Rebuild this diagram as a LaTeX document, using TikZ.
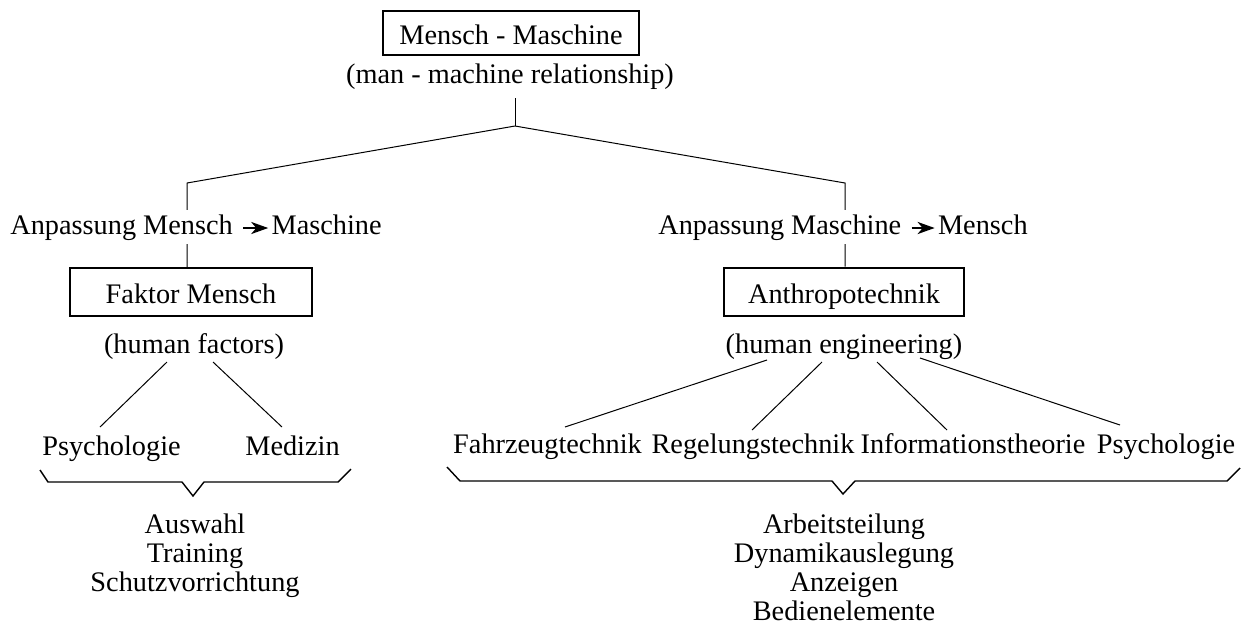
\documentclass[tikz,border=0pt]{standalone}
\usepackage{fontspec}
\setmainfont{Liberation Serif}
\usetikzlibrary{arrows.meta,calc}
\begin{document}
\begin{tikzpicture}[x=0.5pt,y=-0.5pt,
  every node/.style={font=\fontsize{14.15pt}{17pt}\selectfont, inner sep=0pt},
  txt/.style={anchor=base},
  box/.style={draw, line width=1pt, text height=11.5pt, text depth=0pt},
  link/.style={line width=0.5pt},
  brace/.style={line width=0.7pt, line join=miter},
  glyph/.style={line width=1.3pt, -{Stealth[length=8.5pt,width=6pt,inset=2.5pt]}},
  cover/.style={anchor=base west, fill=white, inner xsep=0pt, inner ysep=2pt}]
\fill[white] (0,0) rectangle (1248,628);
\useasboundingbox (0,0) rectangle (1248,628);

% boxes
\node[box, minimum width=128pt, minimum height=22pt] (mm) at (511,32.5) {Mensch - Maschine};
\node[txt] (mmr) at (510,83) {(man - machine relationship)};
\node[box, minimum width=121pt, minimum height=24pt] (fm) at (191,292) {Faktor Mensch};
\node[box, minimum width=120pt, minimum height=24pt] (at) at (844,291.5) {Anthropotechnik};

% tree
\coordinate (apex) at (515,126);
\coordinate (lc) at (187,183);
\coordinate (rc) at (845,183);
\draw[link] ($(mmr.base)+(5,15)$) -- (apex);
\draw[link] (apex) -- (lc) -- (lc |- fm.north);
\draw[link] (apex) -- (rc) -- (rc |- at.north);

% adaptation labels
\node[cover] (al1) at (10,234) {Anpassung Mensch};
\node[cover] (al2) at ($(al1.base east)+(38,0)$) {Maschine};
\draw[glyph] ([xshift=5pt,yshift=3pt]al1.base east) -- ([xshift=-1.5pt,yshift=3pt]al2.base west);
\node[cover] (ar1) at (658,234) {Anpassung Maschine};
\node[cover] (ar2) at ($(ar1.base east)+(36,0)$) {Mensch};
\draw[glyph] ([xshift=5pt,yshift=3pt]ar1.base east) -- ([xshift=-1.5pt,yshift=3pt]ar2.base west);

% sub labels
\node[txt] (hf) at (194,353) {(human factors)};
\node[txt] (he) at (844,353) {(human engineering)};

% disciplines
\node[txt] (ps1) at (111.5,455) {Psychologie};
\node[txt] (med) at (292.5,455) {Medizin};
\node[txt] (fz) at (547.5,453) {Fahrzeugtechnik};
\node[txt] (rg) at (753,453) {Regelungstechnik};
\node[txt] (inf) at (973,453) {Informationstheorie};
\node[txt] (ps2) at (1166,453) {Psychologie};

\draw[link] ($(hf.base)+(-27,9)$) -- ($(ps1.base)+(-11.5,-28)$);
\draw[link] ($(hf.base)+(19,9)$) -- ($(med.base)+(-10.5,-28)$);
\draw[link] ($(he.base)+(-77,7)$) -- ($(fz.base)+(17.5,-26)$);
\draw[link] ($(he.base)+(-22,9)$) -- ($(rg.base)+(-1,-23)$);
\draw[link] ($(he.base)+(33,9)$) -- ($(inf.base)+(-26,-23)$);
\draw[link] ($(he.base)+(76,5)$) -- ($(ps2.base)+(-46,-28)$);

% braces
\draw[brace] (40,470) -- (48,482) -- (182,482) -- (193,496) -- (204,482) -- (338,482) -- (351,469);
\draw[brace] (447,467) -- (460,481) -- (832,481) -- (843,494) -- (855,481) -- (1227,481) -- (1240,468);

% result lists
\node[txt] (l1) at (195,533) {Auswahl};
\node[txt] (l2) at (195,562) {Training};
\node[txt] (l3) at (195,591) {Schutzvorrichtung};
\node[txt] (r1) at (844,533) {Arbeitsteilung};
\node[txt] (r2) at (844,562) {Dynamikauslegung};
\node[txt] (r3) at (844,591) {Anzeigen};
\node[txt] (r4) at (844,620) {Bedienelemente};
\end{tikzpicture}
\end{document}
